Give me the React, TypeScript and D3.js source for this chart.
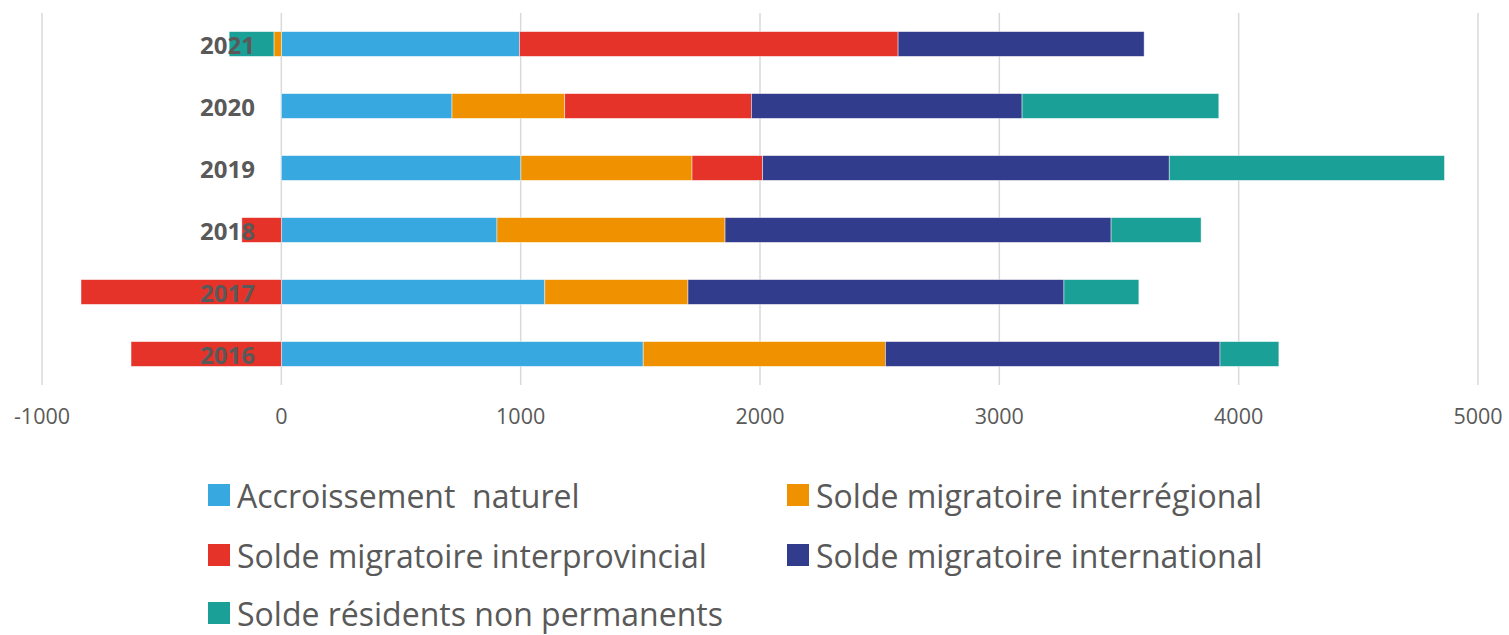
import React from 'react';
import * as d3 from 'd3';

const years = ['2021', '2020', '2019', '2018', '2017', '2016'];
const seriesNames = [
  'Accroissement  naturel',
  'Solde migratoire interrégional',
  'Solde migratoire interprovincial',
  'Solde migratoire international',
  'Solde résidents non permanents',
];
const seriesKeys = ['nat', 'interreg', 'interprov', 'intl', 'npr'];
const colors = ['#38A9E0', '#F09200', '#E6332A', '#323C8C', '#1AA096'];

const accroissementNaturel = [995, 713, 1001, 901, 1101, 1512];
const soldeInterregional = [-31, 471, 715, 953, 598, 1012];
const soldeInterprovincial = [1582, 780, 295, -165, -837, -628];
const soldeInternational = [1028, 1131, 1699, 1613, 1571, 1398];
const soldeNonPermanents = [-187, 822, 1150, 376, 313, 246];

const xTicks = [-1000, 0, 1000, 2000, 3000, 4000, 5000];

const W = 1509;
const H = 635;

export default function App() {
  const rows = years.map((y, i) => ({
    year: y,
    nat: accroissementNaturel[i],
    interreg: soldeInterregional[i],
    interprov: soldeInterprovincial[i],
    intl: soldeInternational[i],
    npr: soldeNonPermanents[i],
  }));

  const x = d3.scaleLinear().domain([-1000, 5000]).range([42, 1478]);
  const y = d3.scaleBand<string>().domain(years).range([13, 385]).paddingInner(0.6).paddingOuter(0.3);

  const stack = d3.stack<any>().keys(seriesKeys).offset(d3.stackOffsetDiverging);
  const stacked = stack(rows);

  const font = "'Open Sans', 'DejaVu Sans', sans-serif";
  const textColor = '#595959';

  const legendItems = [
    { i: 0, x: 208, y: 495 },
    { i: 1, x: 787, y: 495 },
    { i: 2, x: 208, y: 555 },
    { i: 3, x: 787, y: 555 },
    { i: 4, x: 208, y: 613 },
  ];

  return (
    <svg width={W} height={H} style={{ position: 'absolute', left: 0, top: 0, background: '#fff' }}>
      <rect x={0} y={0} width={W} height={H} fill="#fff" />
      {xTicks.map((t) => (
        <line key={t} x1={x(t)} x2={x(t)} y1={13} y2={385} stroke="#d9d9d9" strokeWidth={1.5} />
      ))}
      {stacked.map((s, si) => (
        <g key={s.key} fill={colors[si]}>
          {s.map((d, di) => {
            const x0 = x(Math.min(d[0], d[1]));
            const x1 = x(Math.max(d[0], d[1]));
            return (
              <rect
                key={di}
                x={x0}
                y={y(d.data.year)}
                width={Math.max(0, x1 - x0)}
                height={y.bandwidth()}
                stroke="#ffffff"
                strokeOpacity={0.6}
                strokeWidth={0.75}
              />
            );
          })}
        </g>
      ))}
      {years.map((yr) => (
        <text
          key={yr}
          x={255}
          y={(y(yr) as number) + y.bandwidth() / 2}
          textAnchor="end"
          dominantBaseline="central"
          fontFamily={font}
          fontWeight="bold"
          fontSize={24}
          fill={textColor}
        >
          {yr}
        </text>
      ))}
      {xTicks.map((t) => (
        <text
          key={t}
          x={x(t)}
          y={415}
          textAnchor="middle"
          dominantBaseline="central"
          fontFamily={font}
          fontSize={21.5}
          fill={textColor}
        >
          {t}
        </text>
      ))}
      {legendItems.map((it) => (
        <g key={it.i}>
          <rect x={it.x} y={it.y - 11} width={22} height={22} fill={colors[it.i]} />
          <text
            x={it.x + 29}
            y={it.y}
            dominantBaseline="central"
            fontFamily={font}
            fontSize={32}
            fill={textColor}
            style={{ whiteSpace: 'pre' }}
          >
            {seriesNames[it.i]}
          </text>
        </g>
      ))}
    </svg>
  );
}
